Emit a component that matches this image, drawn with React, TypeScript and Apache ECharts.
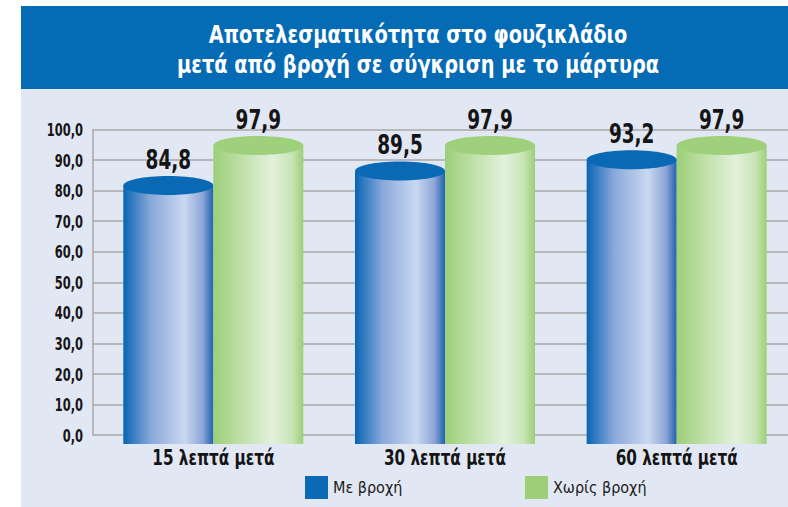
import React, { useEffect, useRef } from "react";
import * as echarts from "echarts";

const categories = ["15 λεπτά μετά", "30 λεπτά μετά", "60 λεπτά μετά"];
const withRain = [84.8, 89.5, 93.2];
const withoutRain = [97.9, 97.9, 97.9];
const yTicks = [0, 10, 20, 30, 40, 50, 60, 70, 80, 90, 100];
const seriesNames = ["Με βροχή", "Χωρίς βροχή"];
const titleLines = [
  "Αποτελεσματικότητα στο φουζικλάδιο",
  "μετά από βροχή σε σύγκριση με το μάρτυρα",
];

const FONT = '"DejaVu Sans Condensed", "DejaVu Sans", sans-serif';
const fmt = (v: number) => v.toFixed(1).replace(".", ",");

const blueStops = [
  { offset: 0, color: "#0865b3" },
  { offset: 0.3, color: "#88a7da" },
  { offset: 0.68, color: "#cad8f0" },
  { offset: 0.88, color: "#8ea6d7" },
  { offset: 1, color: "#1f61af" },
];
const greenStops = [
  { offset: 0, color: "#9ccf78" },
  { offset: 0.35, color: "#c3e2ae" },
  { offset: 0.66, color: "#e3f1dd" },
  { offset: 0.88, color: "#c6e4b4" },
  { offset: 1, color: "#9ccf78" },
];

const OFFSET_X = 4.5;

function makeRender(side: number, stops: any[], topFill: string) {
  return (params: any, api: any) => {
    const cat = api.value(0);
    const val = api.value(1);
    const top = api.coord([cat, val]);
    const base = api.coord([cat, 0]);
    const cx = top[0] + OFFSET_X;
    const w = 90;
    const ry = 9.5;
    const x0 = side < 0 ? cx - w : cx;
    const topY = top[1];
    const bottomY = base[1] + 9;
    return {
      type: "group",
      children: [
        {
          type: "rect",
          shape: { x: x0, y: topY + ry, width: w, height: bottomY - topY - ry },
          style: { fill: new echarts.graphic.LinearGradient(0, 0, 1, 0, stops) },
        },
        {
          type: "ellipse",
          shape: { cx: x0 + w / 2, cy: topY + ry, rx: w / 2, ry },
          style: { fill: topFill },
        },
        {
          type: "text",
          x: x0 + w / 2,
          y: topY - 3,
          scaleX: 0.79,
          style: {
            text: fmt(val),
            x: 0,
            y: 0,
            align: "center",
            verticalAlign: "bottom",
            fontFamily: FONT,
            fontWeight: "bold",
            fontSize: 26,
            fill: "#151515",
          },
        },
      ],
    };
  };
}

const renderYLabel = (params: any, api: any) => {
  const v = api.value(1);
  const p = api.coord([0, v]);
  const left = params.coordSys.x;
  return {
    type: "text",
    x: left - 10,
    y: p[1] + 1,
    scaleX: 0.75,
    style: {
      text: fmt(v),
      x: 0,
      y: 0,
      align: "right",
      verticalAlign: "middle",
      fontFamily: FONT,
      fontWeight: "bold",
      fontSize: 17,
      fill: "#151515",
    },
  };
};

const renderXLabel = (params: any, api: any) => {
  const i = api.value(0);
  const p = api.coord([i, 0]);
  return {
    type: "text",
    x: p[0] + OFFSET_X,
    y: p[1] + 23,
    scaleX: 0.77,
    style: {
      text: categories[i],
      x: 0,
      y: 0,
      align: "center",
      verticalAlign: "middle",
      fontFamily: FONT,
      fontWeight: "bold",
      fontSize: 22,
      fill: "#151515",
    },
  };
};

export default function App() {
  const ref = useRef<HTMLDivElement>(null);
  useEffect(() => {
    if (!ref.current) return;
    const chart = echarts.init(ref.current, undefined, { renderer: "svg" });
    chart.setOption({
      animation: false,
      graphic: [
        {
          type: "rect",
          z: -10,
          shape: { x: 21, y: 89, width: 767, height: 418 },
          style: { fill: "#e2e7f4" },
        },
        {
          type: "rect",
          z: -10,
          shape: { x: 21, y: 6, width: 767, height: 83 },
          style: { fill: "#066bb5" },
        },
        {
          type: "text",
          x: 418,
          y: 49,
          scaleX: 0.86,
          style: {
            text: titleLines.join("\n"),
            x: 0,
            y: 0,
            align: "center",
            verticalAlign: "middle",
            fontFamily: FONT,
            fontWeight: "bold",
            fontSize: 25,
            lineHeight: 30,
            fill: "#ffffff",
          },
        },
      ],
      legend: [
        {
          data: [seriesNames[0]],
          left: 305,
          top: 476,
          padding: 0,
          itemWidth: 23,
          itemHeight: 23,
          itemGap: 5,
          icon: "rect",
          textStyle: { fontFamily: FONT, fontSize: 16, color: "#1a1a1a" },
        },
        {
          data: [seriesNames[1]],
          left: 525,
          top: 476,
          padding: 0,
          itemWidth: 23,
          itemHeight: 23,
          icon: "rect",
          textStyle: { fontFamily: FONT, fontSize: 16, color: "#1a1a1a" },
        },
      ],
      grid: { left: 93, right: -4, top: 129.5, bottom: 72 },
      xAxis: {
        type: "category",
        data: categories,
        axisLine: { show: false },
        axisTick: { show: false },
        axisLabel: { show: false },
      },
      yAxis: {
        type: "value",
        min: 0,
        max: 100,
        interval: 10,
        axisLine: { show: true, lineStyle: { color: "#a8a8a8", width: 1.5 } },
        axisTick: { show: false },
        splitLine: { lineStyle: { color: "#a8a8a8", width: 1.5 } },
        axisLabel: { show: false },
      },
      series: [
        {
          name: seriesNames[0],
          type: "custom",
          color: "#0a6ab5",
          itemStyle: { color: "#0a6ab5" },
          renderItem: makeRender(-1, blueStops, "#0a69b4"),
          data: withRain.map((v, i) => [i, v]),
          encode: { x: 0, y: 1 },
          clip: false,
          z: 3,
        },
        {
          name: seriesNames[1],
          type: "custom",
          color: "#9ccf78",
          itemStyle: { color: "#9ccf78" },
          renderItem: makeRender(1, greenStops, "#9fd17d"),
          data: withoutRain.map((v, i) => [i, v]),
          encode: { x: 0, y: 1 },
          clip: false,
          z: 3,
        },
        {
          name: "yTickLabels",
          type: "custom",
          silent: true,
          renderItem: renderYLabel,
          data: yTicks.map((t) => [0, t]),
          encode: { x: 0, y: 1 },
          clip: false,
          z: 4,
        },
        {
          name: "xCategoryLabels",
          type: "custom",
          silent: true,
          renderItem: renderXLabel,
          data: categories.map((_, i) => [i, 0]),
          encode: { x: 0, y: 1 },
          clip: false,
          z: 4,
        },
      ],
    });
    return () => chart.dispose();
  }, []);
  return (
    <div
      ref={ref}
      style={{ position: "fixed", left: 0, top: 0, width: 788, height: 507, background: "#ffffff" }}
    />
  );
}
